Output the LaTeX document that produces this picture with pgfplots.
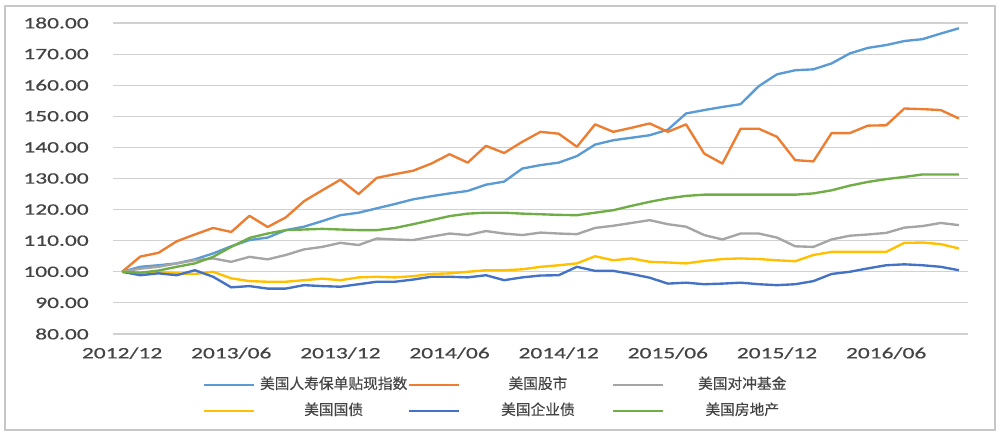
\documentclass[border=0pt]{standalone}
\usepackage{pgfplots}
\pgfplotsset{compat=1.18}
\usepackage{pgfplotstable}
\usepackage{fontspec}
\setmainfont{Carlito}
\newfontfamily\tickfont[FakeStretch=1.48,FakeBold=0.6]{Carlito}
\newfontfamily\cjk[FakeBold=0.4]{Noto Sans CJK SC}
\definecolor{c1}{RGB}{91,155,213}
\definecolor{c2}{RGB}{237,125,49}
\definecolor{c3}{RGB}{165,165,165}
\definecolor{c4}{RGB}{255,192,0}
\definecolor{c5}{RGB}{68,114,196}
\definecolor{c6}{RGB}{112,173,71}
\definecolor{lbl}{RGB}{68,68,68}
\pgfplotstableread{
i  life   stock  hedge  treas  corp   re
0  100.0  100.0  100.0  100.0  100.0  100.0
1  101.6  104.9  101.0  99.7   98.9   99.7
2  102.1  106.1  101.6  100.0  99.5   100.4
3  102.7  109.8  102.7  99.5   98.9   101.6
4  104.0  112.0  103.7  99.3   100.5  102.7
5  105.9  114.1  104.3  100.0  98.4   104.8
6  108.2  112.8  103.2  97.9   95.0   108.0
7  110.2  118.0  104.8  97.0   95.4   110.9
8  111.0  114.4  104.0  96.8   94.6   112.3
9  113.4  117.5  105.4  96.8   94.6   113.4
10 114.5  122.7  107.2  97.3   95.7   113.6
11 116.3  126.2  108.0  97.8   95.4   113.8
12 118.2  129.6  109.3  97.3   95.2   113.6
13 119.0  125.0  108.6  98.2   96.0   113.4
14 120.4  130.2  110.7  98.4   96.8   113.4
15 121.8  131.4  110.4  98.2   96.8   114.1
16 123.3  132.5  110.2  98.6   97.5   115.3
17 124.3  134.8  111.3  99.3   98.4   116.6
18 125.2  137.8  112.3  99.5   98.4   117.9
19 126.0  135.1  111.8  100.0  98.2   118.7
20 128.0  140.5  113.1  100.5  98.9   119.0
21 129.0  138.2  112.3  100.5  97.3   119.0
22 133.2  141.8  111.8  100.8  98.2   118.7
23 134.3  145.0  112.6  101.6  98.8   118.5
24 135.1  144.4  112.3  102.1  98.9   118.3
25 137.2  140.2  112.1  102.7  101.6  118.2
26 140.9  147.4  114.1  105.0  100.3  119.0
27 142.3  145.0  114.8  103.7  100.3  119.8
28 143.1  146.3  115.7  104.3  99.3   121.2
29 143.9  147.7  116.6  103.2  98.1   122.5
30 145.7  145.0  115.3  103.0  96.2   123.6
31 150.9  147.4  114.5  102.7  96.5   124.4
32 152.0  138.0  111.8  103.5  96.0   124.8
33 153.0  134.8  110.4  104.1  96.2   124.8
34 153.9  146.0  112.3  104.3  96.5   124.8
35 159.7  146.0  112.3  104.1  96.0   124.8
36 163.5  143.4  111.0  103.7  95.7   124.8
37 164.8  135.9  108.2  103.4  96.0   124.8
38 165.1  135.5  108.0  105.4  97.0   125.2
39 167.0  144.6  110.4  106.4  99.3   126.2
40 170.2  144.6  111.6  106.4  100.0  127.7
41 172.0  147.0  112.0  106.4  101.1  128.9
42 172.9  147.1  112.5  106.4  102.1  129.8
43 174.2  152.5  114.2  109.3  102.4  130.5
44 174.8  152.3  114.7  109.4  102.1  131.3
45 176.6  152.0  115.7  108.9  101.6  131.3
46 178.3  149.3  115.0  107.5  100.5  131.3
}\data
\begin{document}
\begin{tikzpicture}[x=0.72bp,y=0.72bp]
\useasboundingbox (0,0) rectangle (1000,436);
\draw[line width=0.8bp, black!22] (5,6) rectangle (995,430);
\begin{axis}[
  scale only axis,
  width=615.6bp, height=223.92bp,
  at={(81.36bp,73.44bp)}, anchor=south west,
  xmin=-0.5, xmax=46.5, ymin=80, ymax=180,
  axis line style={draw=none},
  major tick length=0pt,
  ytick={80,90,...,180},
  yticklabels={80.00,90.00,100.00,110.00,120.00,130.00,140.00,150.00,160.00,170.00,180.00},
  xtick={0,6,...,42},
  xticklabels={2012/12,2013/06,2013/12,2014/06,2014/12,2015/06,2015/12,2016/06},
  ymajorgrids,
  grid style={line width=0.8bp, black!18},
  tick label style={font=\tickfont\fontsize{11.4bp}{13bp}\selectfont, text=lbl, inner sep=0pt},
  yticklabel style={anchor=east, xshift=-17.3bp},
  xticklabel style={anchor=north, yshift=-9.4bp},
  every axis plot/.append style={line width=1.7bp, mark=none, line join=round},
  legend columns=3,
  legend image code/.code={\draw[#1, line width=1.6bp] (0bp,0bp) -- (36bp,0bp);},
  legend style={at={(0.1053,-0.14)}, anchor=north west, draw=none, fill=none,
    inner sep=0pt, row sep=8.2bp,
    /tikz/every odd column/.append style={column sep=3bp},
    nodes={inner sep=0pt, text width=106.5bp, align=center, text height=8bp, text depth=2.5bp,
      font=\cjk\fontsize{10.6bp}{12bp}\selectfont, text=lbl}},
]
\addplot[c1] table[x=i,y=life] {\data};
\addlegendentry{美国人寿保单贴现指数}
\addplot[c2] table[x=i,y=stock] {\data};
\addlegendentry{美国股市}
\addplot[c3] table[x=i,y=hedge] {\data};
\addlegendentry{美国对冲基金}
\addplot[c4] table[x=i,y=treas] {\data};
\addlegendentry{美国国债}
\addplot[c5] table[x=i,y=corp] {\data};
\addlegendentry{美国企业债}
\addplot[c6] table[x=i,y=re] {\data};
\addlegendentry{美国房地产}
\end{axis}
\end{tikzpicture}
\end{document}
